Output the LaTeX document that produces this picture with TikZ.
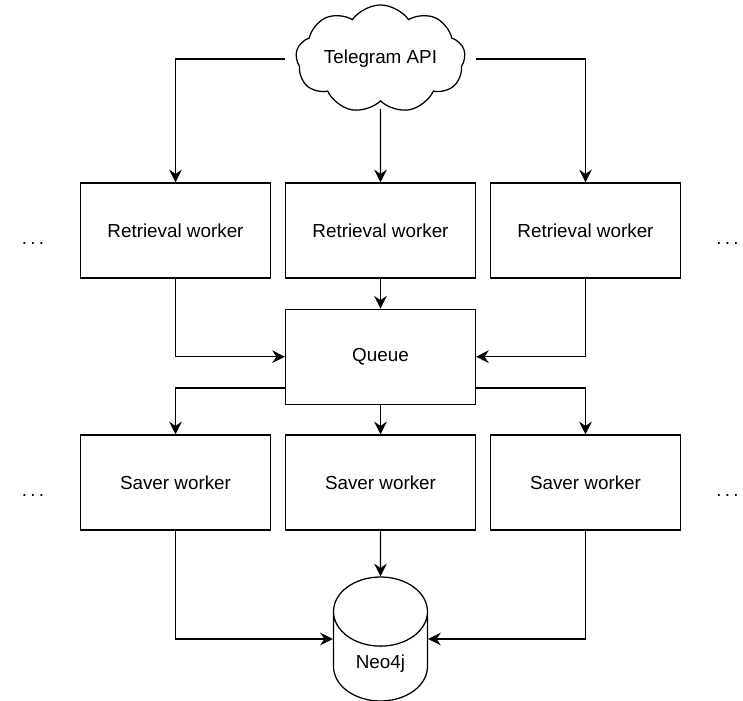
\documentclass[tikz,border=0pt]{standalone}
\usepackage{fontspec}
\setmainfont{Liberation Sans}
\usepackage{tikz}
\usetikzlibrary{shapes.geometric, shapes.symbols, arrows.meta}

\begin{document}
\begin{tikzpicture}[node distance=5.125cm, auto]
    % Define the style for the nodes
    \tikzstyle{worker} = [rectangle, draw, line width=0.9pt, minimum width=4.75cm, minimum height=2.375cm, font=\fontsize{13.4}{16}\selectfont]
    \tikzstyle{api} = [cloud, cloud puffs=9, cloud puff arc=110, cloud ignores aspect, draw, line width=0.9pt, minimum width=4.1cm, minimum height=2.7cm, font=\fontsize{13.4}{16}\selectfont]
    \tikzstyle{store} = [cylinder, shape border rotate=90, aspect=1.18, draw, line width=0.9pt, minimum width=2.35cm, minimum height=3.1cm, font=\fontsize{13.4}{16}\selectfont]
    \tikzstyle{more} = [font=\fontsize{13.4}{16}\selectfont, yshift=-0.33cm]
    \tikzstyle{line} = [draw, line width=0.9pt, -{Stealth[length=9pt, width=9pt, inset=3pt]}]

    \useasboundingbox (-9.5125,1.475) rectangle (9.0625,-16.05);

    % Place the nodes
    \node [api] (telegram) {Telegram API};
    \node [worker, below of=telegram, node distance=4.2875cm] (ret2) {Retrieval worker};
    \node [worker, left of=ret2] (ret1) {Retrieval worker};
    \node [worker, right of=ret2] (ret3) {Retrieval worker};
    \node [worker, below of=ret2, node distance=3.155cm] (queue) {Queue};
    \node [worker, below of=queue, node distance=3.145cm] (sav2) {Saver worker};
    \node [worker, left of=sav2] (sav1) {Saver worker};
    \node [worker, right of=sav2] (sav3) {Saver worker};
    \node [store, below of=sav2, node distance=3.9125cm, anchor=shape center] (neo) {Neo4j};
    \node [more, left of=ret1, node distance=3.5625cm] (retleft) {.\kern2.3pt.\kern2.3pt.};
    \node [more, right of=ret3, node distance=3.55cm] (retright) {.\kern2.3pt.\kern2.3pt.};
    \node [more, left of=sav1, node distance=3.5625cm] (savleft) {.\kern2.3pt.\kern2.3pt.};
    \node [more, right of=sav3, node distance=3.55cm] (savright) {.\kern2.3pt.\kern2.3pt.};

    % Connect the nodes with paths
    \path [line, shorten <=0.28cm] (telegram.west) -| (ret1);
    \path [line, shorten <=0.18cm] (telegram.south) -- (ret2);
    \path [line, shorten <=0.28cm] (telegram.east) -| (ret3);

    \path [line] (ret1) |- (queue);
    \path [line] (ret2) -- (queue);
    \path [line] (ret3) |- (queue);

    \path [line] ([yshift=-0.78cm]queue.west) -| (sav1);
    \path [line] (queue) -- (sav2);
    \path [line] ([yshift=-0.78cm]queue.east) -| (sav3);

    % side arrows meet the cylinder at half its height
    \path [line] (sav1) |- (neo.west |- neo.shape center);
    \path [line] (sav2) -- (neo);
    \path [line] (sav3) |- (neo.east |- neo.shape center);

\end{tikzpicture}
\end{document}
